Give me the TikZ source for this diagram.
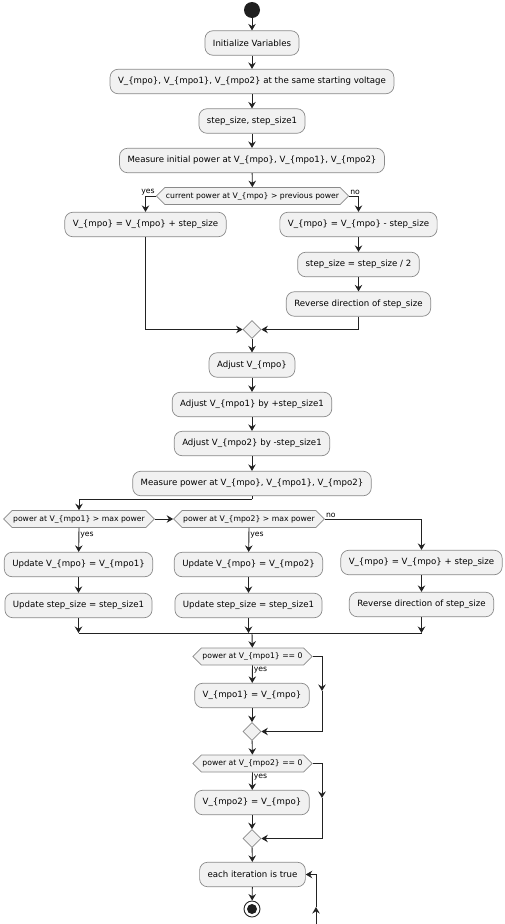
\documentclass[tikz,border=0pt]{standalone}
\usepackage{fontspec}
\setmainfont{DejaVu Sans}
\usetikzlibrary{arrows.meta,positioning,shapes.geometric,shapes.symbols}
\definecolor{actfill}{HTML}{F1F1F1}
\definecolor{actline}{HTML}{8A8A8A}
\definecolor{flow}{HTML}{222222}
\tikzset{
  act/.style   = {rectangle, rounded corners=8pt, draw=actline,
                  fill=actfill, line width=0.7pt, minimum height=24.5pt,
                  inner xsep=8pt, font=\fontsize{8.6}{10}\selectfont},
  cond/.style  = {signal, signal to=west and east, draw=actline,
                  fill=actfill, line width=0.7pt, minimum height=17pt,
                  inner xsep=1pt, inner ysep=1pt,
                  font=\fontsize{7.7}{9}\selectfont},
  merge/.style = {diamond, draw=actline, fill=actfill, line width=0.7pt,
                  minimum size=18pt, inner sep=0pt},
  lbl/.style   = {font=\fontsize{7.7}{9}\selectfont, inner sep=1pt},
  arr/.style   = {-{Stealth[length=6.5pt, width=7.5pt, inset=2.2pt]},
                  line width=0.9pt, draw=flow},
  ln/.style    = {line width=0.9pt, draw=flow}
}

\begin{document}
\begin{tikzpicture}[x=1pt, y=-1pt]
  \useasboundingbox (0,0) rectangle (505,924);
  % start and set-up
  \node[circle, fill=black!88, minimum size=16pt, inner sep=0pt] (start) at (252,10) {};
  \node[act] (init)  at (252,43)    {Initialize Variables};
  \node[act] (vset)  at (252,81.5)  {V\_\{mpo\}, V\_\{mpo1\}, V\_\{mpo2\} at the same starting voltage};
  \node[act] (steps) at (252,121)   {step\_size, step\_size1};
  \node[act] (meas0) at (252,160.5) {Measure initial power at V\_\{mpo\}, V\_\{mpo1\}, V\_\{mpo2\}};
  \foreach \a/\b in {start/init,init/vset,vset/steps,steps/meas0}
    \draw[arr] (\a) -- (\b);

  % first decision
  \node[cond] (dec1) at (252.5,196) {current power at V\_\{mpo\} > previous power};
  \draw[arr] (meas0) -- (dec1);
  \node[act] (incr) at (145.5,224.5) {V\_\{mpo\} = V\_\{mpo\} + step\_size};
  \node[act] (decr) at (358.5,224.5) {V\_\{mpo\} = V\_\{mpo\} - step\_size};
  \node[act] (half) at (358.5,264.5) {step\_size = step\_size / 2};
  \node[act] (rev1) at (358.5,304)   {Reverse direction of step\_size};
  \node[merge] (m1) at (252,329.5) {};
  \draw[arr] (dec1.west) -| (incr);
  \draw[arr] (dec1.east) -| (decr);
  \node[lbl, anchor=south east] (yes1) at (dec1.west) {yes};
  \node[lbl, anchor=south west] (no1) at (dec1.east) {no};
  \draw[arr] (decr) -- (half);
  \draw[arr] (half) -- (rev1);
  \draw[arr] (incr.south) |- (m1.west);
  \draw[arr] (rev1.south) |- (m1.east);

  % adjust and measure
  \node[act] (adj)  at (252,365)   {Adjust V\_\{mpo\}};
  \node[act] (adj1) at (252,404.5) {Adjust V\_\{mpo1\} by +step\_size1};
  \node[act] (adj2) at (252,443.5) {Adjust V\_\{mpo2\} by -step\_size1};
  \node[act] (meas) at (252,483.5) {Measure power at V\_\{mpo\}, V\_\{mpo1\}, V\_\{mpo2\}};
  \foreach \a/\b in {m1/adj,adj/adj1,adj1/adj2,adj2/meas}
    \draw[arr] (\a) -- (\b);

  % compare against max power
  \coordinate (split) at (252,499);
  \node[cond] (decA) at (79,519)  {power at V\_\{mpo1\} > max power};
  \node[cond] (decB) at (249,519) {power at V\_\{mpo2\} > max power};
  \draw[ln] (meas.south) -- (split);
  \draw[arr] (split) -| (decA.north);
  \draw[arr] (decA.east) -- (decB.west);
  \node[act] (updA)  at (78.5,564.5)  {Update V\_\{mpo\} = V\_\{mpo1\}};
  \node[act] (stepA) at (78.5,605.5)  {Update step\_size = step\_size1};
  \node[act] (updB)  at (248.5,564.5) {Update V\_\{mpo\} = V\_\{mpo2\}};
  \node[act] (stepB) at (248.5,605.5) {Update step\_size = step\_size1};
  \node[act] (incC)  at (421.5,562.5) {V\_\{mpo\} = V\_\{mpo\} + step\_size};
  \node[act] (revC)  at (421.5,604.5) {Reverse direction of step\_size};
  \draw[arr] (decA.south) -- node[lbl, pos=0.3, right] {yes} (updA);
  \draw[arr] (decB.south) -- node[lbl, pos=0.3, right] {yes} (updB);
  \draw[arr] (decB.east) -| (incC);
  \node[lbl, anchor=south west] (no2) at (decB.east) {no};
  \foreach \a/\b in {updA/stepA,updB/stepB,incC/revC}
    \draw[arr] (\a) -- (\b);

  % join bar
  \coordinate (bar) at (252,633);
  \foreach \a in {stepA,stepB,revC}
    \draw[arr] (\a.south) -- (\a.south |- bar);
  \draw[ln] (stepA.south |- bar) -- (revC.south |- bar);

  % zero power checks
  \node[cond] (decZ1) at (252.5,656.5) {power at V\_\{mpo1\} == 0};
  \node[act] (set1) at (252,695.5) {V\_\{mpo1\} = V\_\{mpo\}};
  \node[merge] (m2) at (252,731.5) {};
  \coordinate (side1) at (322,691);
  \draw[arr] (bar) -- (decZ1);
  \draw[arr] (decZ1.south) -- node[lbl, pos=0.3, right] {yes} (set1);
  \draw[arr] (set1) -- (m2);
  \draw[arr] (decZ1.east) -| (side1);
  \draw[arr] (side1) |- (m2.east);

  \node[cond] (decZ2) at (252.5,763.5) {power at V\_\{mpo2\} == 0};
  \node[act] (set2) at (252,802.5) {V\_\{mpo2\} = V\_\{mpo\}};
  \node[merge] (m3) at (252,838.5) {};
  \coordinate (side2) at (322,798);
  \draw[arr] (m2) -- (decZ2);
  \draw[arr] (decZ2.south) -- node[lbl, pos=0.3, right] {yes} (set2);
  \draw[arr] (set2) -- (m3);
  \draw[arr] (decZ2.east) -| (side2);
  \draw[arr] (side2) |- (m3.east);

  % loop and end
  \node[act] (loop) at (252.5,874.5) {each iteration is true};
  \node[circle, draw=black!85, line width=0.9pt, fill=white, minimum size=16pt, inner sep=0pt] (stop) at (252,909) {};
  \fill[black!88] (stop) circle (5pt);
  \coordinate (back0) at (316,924);
  \coordinate (back1) at (316,907);
  \draw[arr] (m3) -- (loop);
  \draw[arr] (loop) -- (stop);
  \draw[arr] (back0) -- (back1);
  \draw[arr] (back1) |- (loop.east);
\end{tikzpicture}
\end{document}
